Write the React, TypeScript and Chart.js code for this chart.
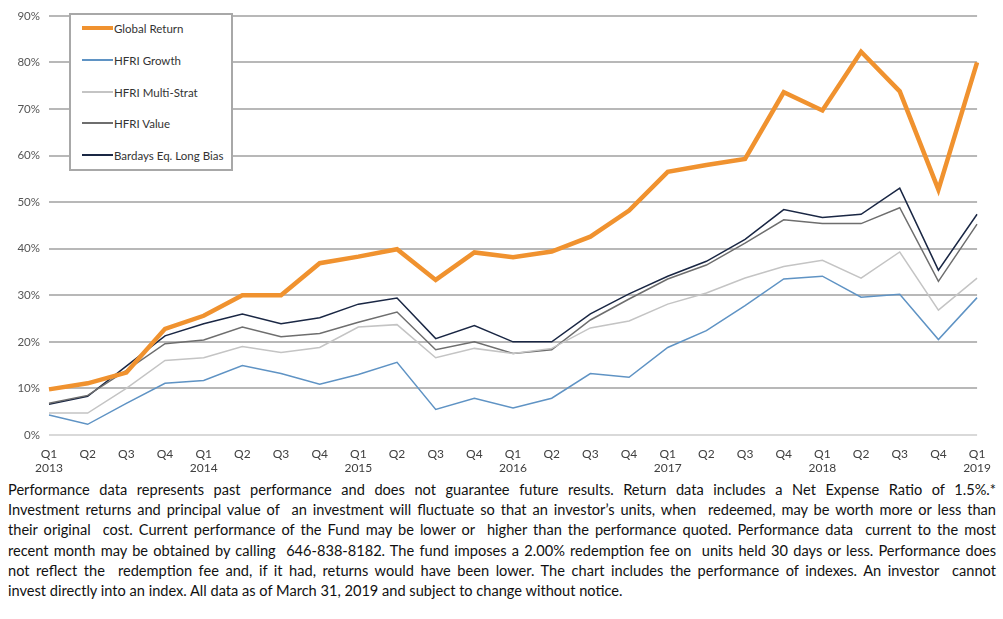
import React, { useEffect, useRef } from "react";
import { Chart, registerables } from "chart.js";

Chart.register(...registerables);

const quarterLabels: string[][] = [
  ["Q1", "2013"], ["Q2"], ["Q3"], ["Q4"],
  ["Q1", "2014"], ["Q2"], ["Q3"], ["Q4"],
  ["Q1", "2015"], ["Q2"], ["Q3"], ["Q4"],
  ["Q1", "2016"], ["Q2"], ["Q3"], ["Q4"],
  ["Q1", "2017"], ["Q2"], ["Q3"], ["Q4"],
  ["Q1", "2018"], ["Q2"], ["Q3"], ["Q4"],
  ["Q1", "2019"],
];

const globalReturn = [9.8, 11.1, 13.4, 22.8, 25.6, 30.0, 30.0, 36.9, 38.3, 39.9, 33.3, 39.2, 38.2, 39.4, 42.6, 48.2, 56.5, 58.0, 59.3, 73.6, 69.7, 82.3, 73.8, 52.7, 80.0];
const hfriGrowth = [4.3, 2.3, 6.8, 11.1, 11.7, 14.9, 13.2, 10.9, 13.0, 15.6, 5.5, 7.9, 5.8, 7.9, 13.2, 12.4, 18.8, 22.4, 27.8, 33.5, 34.1, 29.6, 30.2, 20.5, 29.5];
const hfriMulti = [4.7, 4.7, 10.0, 16.0, 16.6, 19.0, 17.7, 18.8, 23.2, 23.7, 16.6, 18.6, 17.5, 18.6, 23.0, 24.5, 28.1, 30.5, 33.7, 36.2, 37.5, 33.7, 39.3, 26.8, 33.7];
const hfriValue = [6.8, 8.5, 13.9, 19.6, 20.4, 23.2, 21.1, 21.8, 24.2, 26.4, 18.3, 20.0, 17.5, 18.3, 24.7, 29.2, 33.5, 36.5, 41.2, 46.2, 45.4, 45.4, 48.8, 33.0, 45.3];
const barclays = [6.6, 8.3, 14.8, 21.3, 23.9, 26.0, 23.9, 25.2, 28.1, 29.4, 20.7, 23.5, 20.0, 20.0, 26.0, 30.3, 34.1, 37.3, 42.0, 48.4, 46.7, 47.4, 53.0, 35.4, 47.4];

const seriesNames = ["Global Return", "HFRI Growth", "HFRI Multi-Strat", "HFRI Value", "Bardays Eq. Long Bias"];
const seriesColors = ["#F0922F", "#5F93C4", "#C4C4C4", "#6E6E6E", "#1A2744"];
const seriesWidths = [4.5, 1.5, 1.5, 1.5, 1.5];
const seriesData = [globalReturn, hfriGrowth, hfriMulti, hfriValue, barclays];

const footnoteLines = [
  "Performance data represents past performance and does not guarantee future results. Return data includes a Net Expense Ratio of 1.5%.*",
  "Investment returns and principal value of  an investment will fluctuate so that an investor\u2019s units, when  redeemed, may be worth more or less than",
  "their original  cost. Current performance of the Fund may be lower or  higher than the performance quoted. Performance data  current to the most",
  "recent month may be obtained by calling  646-838-8182. The fund imposes a 2.00% redemption fee on  units held 30 days or less. Performance does",
  "not reflect the  redemption fee and, if it had, returns would have been lower. The chart includes the performance of indexes. An investor  cannot",
  "invest directly into an index. All data as of March 31, 2019 and subject to change without notice.",
];

const FONT = "Lato, 'Noto Sans', sans-serif";

export default function App() {
  const canvasRef = useRef<HTMLCanvasElement | null>(null);

  useEffect(() => {
    if (!canvasRef.current) return;
    const chart = new Chart(canvasRef.current, {
      type: "line",
      data: {
        labels: quarterLabels,
        datasets: seriesData.map((d, i) => ({
          label: seriesNames[i],
          data: d,
          borderColor: seriesColors[i],
          backgroundColor: seriesColors[i],
          borderWidth: seriesWidths[i],
          pointRadius: 0,
          tension: 0,
          fill: false,
        })),
      },
      options: {
        animation: false,
        responsive: false,
        devicePixelRatio: 1,
        layout: { padding: { top: 13, right: 18, left: 0, bottom: 0 } },
        plugins: { legend: { display: false }, tooltip: { enabled: false } },
        scales: {
          x: {
            offset: false,
            grid: { display: false, drawTicks: false },
            border: { display: false },
            ticks: {
              color: "#404040",
              font: { family: FONT, size: 12 },
              padding: 12,
              maxRotation: 0,
              autoSkip: false,
            },
            afterFit: (s: any) => { s.height = 45; },
          },
          y: {
            min: 0,
            max: 90,
            grid: {
              color: (c: any) => (c.tick && c.tick.value === 0 ? "#d9d9d9" : "#b8b8b8"),
              lineWidth: 2,
              drawTicks: false,
            },
            border: { display: false },
            ticks: {
              stepSize: 10,
              color: "#555555",
              font: { family: FONT, size: 11.5 },
              padding: 9,
              callback: (v: any) => v + "%",
            },
            afterFit: (s: any) => { s.width = 49; },
          },
        },
      },
    });
    return () => chart.destroy();
  }, []);

  return (
    <div style={{ position: "absolute", left: 0, top: 0, width: 1003, height: 619, background: "#fff", fontFamily: FONT }}>
      <canvas ref={canvasRef} width={1003} height={480} style={{ position: "absolute", left: 0, top: 0, width: 1003, height: 480 }} />
      <div
        style={{
          position: "absolute",
          left: 69,
          top: 13,
          width: 160,
          height: 154,
          background: "#fff",
          border: "2px solid #a8a8a8",
        }}
      >
        {seriesNames.map((n, i) => (
          <div
            key={n}
            style={{
              position: "absolute",
              left: 11,
              top: [4, 36, 68, 99, 131][i],
              height: 18,
              display: "flex",
              alignItems: "center",
              whiteSpace: "nowrap",
            }}
          >
            <div style={{ width: 31, height: seriesWidths[i] > 2 ? 4 : 2, background: seriesColors[i] }} />
            <span style={{ fontSize: 11.5, color: "#333", marginLeft: 1 }}>{n}</span>
          </div>
        ))}
      </div>
      <div style={{ position: "absolute", left: 8, top: 480, width: 988, fontSize: 14.6, lineHeight: "20.2px", color: "#111" }}>
        {footnoteLines.map((l, i) => (
          <div
            key={i}
            style={{
              whiteSpace: "pre",
              textAlign: i < footnoteLines.length - 1 ? "justify" : "left",
              textAlignLast: i < footnoteLines.length - 1 ? "justify" : "left",
            } as any}
          >
            {l}
          </div>
        ))}
      </div>
    </div>
  );
}
